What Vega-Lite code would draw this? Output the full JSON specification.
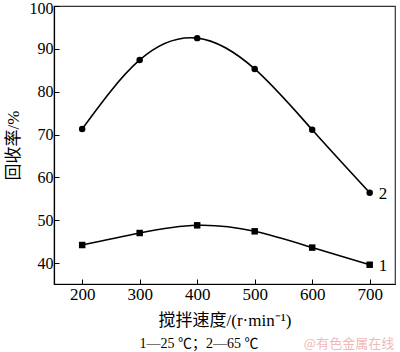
{
  "$schema": "https://vega.github.io/schema/vega-lite/v6.json",
  "width": 341,
  "height": 278,
  "autosize": "none",
  "padding": {"left": 54, "top": 6, "right": 5, "bottom": 68},
  "background": "white",
  "config": {
    "view": {"stroke": "#333", "strokeWidth": 1.2},
    "font": "Liberation Serif",
    "axis": {
      "grid": false,
      "domainColor": "black",
      "domainWidth": 1.2,
      "tickColor": "black",
      "tickSize": -5,
      "labelFont": "Liberation Serif",
      "labelFontSize": 17,
      "labelColor": "black",
      "titleFont": "Liberation Serif, Noto Sans CJK SC",
      "titleFontSize": 17,
      "titleFontWeight": "normal",
      "titleColor": "black"
    }
  },
  "layer": [
    {
      "data": {
        "values": [
          {"speed": 200, "rate": 44.2, "series": "1"},
          {"speed": 300, "rate": 47.0, "series": "1"},
          {"speed": 400, "rate": 48.8, "series": "1"},
          {"speed": 500, "rate": 47.4, "series": "1"},
          {"speed": 600, "rate": 43.6, "series": "1"},
          {"speed": 700, "rate": 39.6, "series": "1"},
          {"speed": 200, "rate": 71.3, "series": "2"},
          {"speed": 300, "rate": 87.4, "series": "2"},
          {"speed": 400, "rate": 92.5, "series": "2"},
          {"speed": 500, "rate": 85.3, "series": "2"},
          {"speed": 600, "rate": 71.1, "series": "2"},
          {"speed": 700, "rate": 56.4, "series": "2"}
        ]
      },
      "encoding": {
        "x": {
          "field": "speed",
          "type": "quantitative",
          "scale": {"domain": [151, 744], "nice": false, "zero": false},
          "axis": {"values": [200, 300, 400, 500, 600, 700], "title": "搅拌速度/(r·min⁻¹)", "labelPadding": 7, "titlePadding": 10}
        },
        "y": {
          "field": "rate",
          "type": "quantitative",
          "scale": {"domain": [35.1, 100], "nice": false, "zero": false},
          "axis": {
            "values": [40, 50, 60, 70, 80, 90, 100],
            "title": "回收率/%",
            "labelFontSize": 16,
            "labelPadding": 6,
            "titlePadding": 7,
            "labelOffset": {"condition": {"test": "datum.value == 100", "value": 2}, "value": 0}
          }
        }
      },
      "layer": [
        {
          "mark": {"type": "line", "interpolate": "natural", "color": "black", "strokeWidth": 1.6},
          "encoding": {"detail": {"field": "series"}}
        },
        {
          "mark": {"type": "point", "filled": true, "color": "black", "opacity": 1},
          "encoding": {
            "shape": {"field": "series", "type": "nominal", "scale": {"domain": ["1", "2"], "range": ["square", "circle"]}, "legend": null},
            "size": {"value": 42}
          }
        },
        {
          "transform": [{"filter": "datum.speed == 700"}],
          "mark": {"type": "text", "align": "left", "dx": 9, "dy": 1, "fontSize": 17, "font": "Liberation Serif", "color": "black"},
          "encoding": {"text": {"field": "series"}}
        }
      ]
    },
    {
      "data": {"values": [{"label": "1—25 ℃；2—65 ℃"}]},
      "mark": {"type": "text", "align": "center", "baseline": "middle", "fontSize": 14, "font": "Liberation Serif, Noto Sans CJK SC", "color": "black", "clip": false},
      "encoding": {"x": {"datum": 403, "type": "quantitative"}, "y": {"datum": 21.2, "type": "quantitative"}, "text": {"field": "label"}}
    },
    {
      "data": {"values": [{"label": "@有色金属在线"}]},
      "mark": {"type": "text", "align": "center", "baseline": "middle", "fontSize": 13, "font": "Noto Sans CJK SC", "color": "#f2b8b8", "clip": false},
      "encoding": {"x": {"datum": 664, "type": "quantitative"}, "y": {"datum": 21.2, "type": "quantitative"}, "text": {"field": "label"}}
    }
  ]
}
